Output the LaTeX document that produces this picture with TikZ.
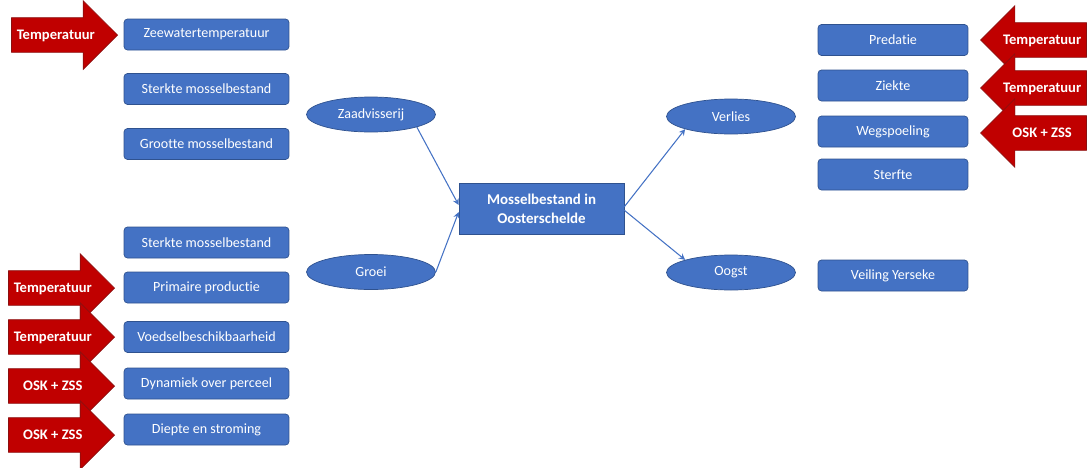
\documentclass[tikz,border=0pt]{standalone}
\usepackage{fontspec}
\setmainfont{Carlito}[Ligatures=NoCommon]
\usetikzlibrary{shapes,arrows}
\definecolor{blauw}{HTML}{4472C4}
\definecolor{blauwrand}{HTML}{2F528F}
\definecolor{rood}{HTML}{C00000}
\definecolor{roodrand}{HTML}{8B1010}
\tikzset{blok/.style={rectangle,rounded corners=2pt,draw=blauwrand,fill=blauw,text=white,minimum width=3.3cm,minimum height=0.62cm,inner sep=0pt,font=\fontsize{8}{9}\selectfont},
ovaal/.style={ellipse,draw=blauwrand,fill=blauw,text=white,minimum width=2.58cm,minimum height=0.7cm,inner sep=0pt,font=\fontsize{8}{9}\selectfont},
pijl/.style={single arrow,draw=roodrand,fill=rood,text=white,minimum height=2.12cm,text height=2.2mm,text depth=0.6mm,inner xsep=1pt,inner ysep=2mm,single arrow head extend=0.34cm,font=\bfseries\fontsize{8.3}{9}\selectfont,anchor=tip},
pijlterug/.style={pijl,shape border rotate=180},
verband/.style={->,>=stealth,draw=blauw,semithick}}

\begin{document}
\begin{tikzpicture}[x=0.02cm,y=-0.02cm]
\useasboundingbox (0,0) rectangle (1089,467);
% links: factoren
\node[blok] (zee) at (206.5,34.5) {Zeewatertemperatuur};
\node[blok] (sterkte) at (206.5,89) {Sterkte mosselbestand};
\node[blok] (grootte) at (206.5,144) {Grootte mosselbestand};
\node[blok] (sterktetwee) at (206.5,242.5) {Sterkte mosselbestand};
\node[blok] (primair) at (206.5,287.5) {Primaire productie};
\node[blok] (voedsel) at (206.5,337) {Voedselbeschikbaarheid};
\node[blok] (dynamiek) at (206.5,383.5) {Dynamiek over perceel};
\node[blok] (diepte) at (206.5,429.5) {Diepte en stroming};

\node[pijl] (tempzee) at (118,35) {Temperatuur};
\node[pijl] (tempprim) at (115,288) {Temperatuur};
\node[pijl] (tempvoed) at (115,337) {Temperatuur};
\node[pijl] (oskdyn) at (115,386) {OSK + ZSS};
\node[pijl] (oskdiep) at (115,435) {OSK + ZSS};

% midden
\node[ovaal] (zaad) at (371,114.5) {Zaadvisserij};
\node[ovaal] (groei) at (371,272) {Groei};
\node[blok,rounded corners=0pt,minimum height=1.02cm,align=center,font=\bfseries\fontsize{8.5}{11}\selectfont] (mossel) at (541.5,208.5) {Mosselbestand in\\Oosterschelde};
\node[ovaal] (verlies) at (731,116.5) {Verlies};
\node[ovaal] (oogst) at (731,272.5) {Oogst};

\draw[verband] (zaad.south east) -- ([yshift=2pt]mossel.west);
\draw[verband] (groei.east) -- ([yshift=-2pt]mossel.west);
\draw[verband] ([yshift=1pt]mossel.east) -- (verlies.south west);
\draw[verband] ([yshift=-1pt]mossel.east) -- (oogst.north west);

% rechts: verliezen
\node[blok,minimum width=3cm] (predatie) at (893,40) {Predatie};
\node[blok,minimum width=3cm] (ziekte) at (893,85.5) {Ziekte};
\node[blok,minimum width=3cm] (wegspoeling) at (893,131.5) {Wegspoeling};
\node[blok,minimum width=3cm] (sterfte) at (893,174.5) {Sterfte};
\node[blok,minimum width=3cm] (veiling) at (893,275.5) {Veiling Yerseke};

\node[pijlterug] (temppred) at (980,40) {Temperatuur};
\node[pijlterug] (tempziek) at (980,88) {Temperatuur};
\node[pijlterug] (oskweg) at (980,133) {OSK + ZSS};
\end{tikzpicture}
\end{document}
